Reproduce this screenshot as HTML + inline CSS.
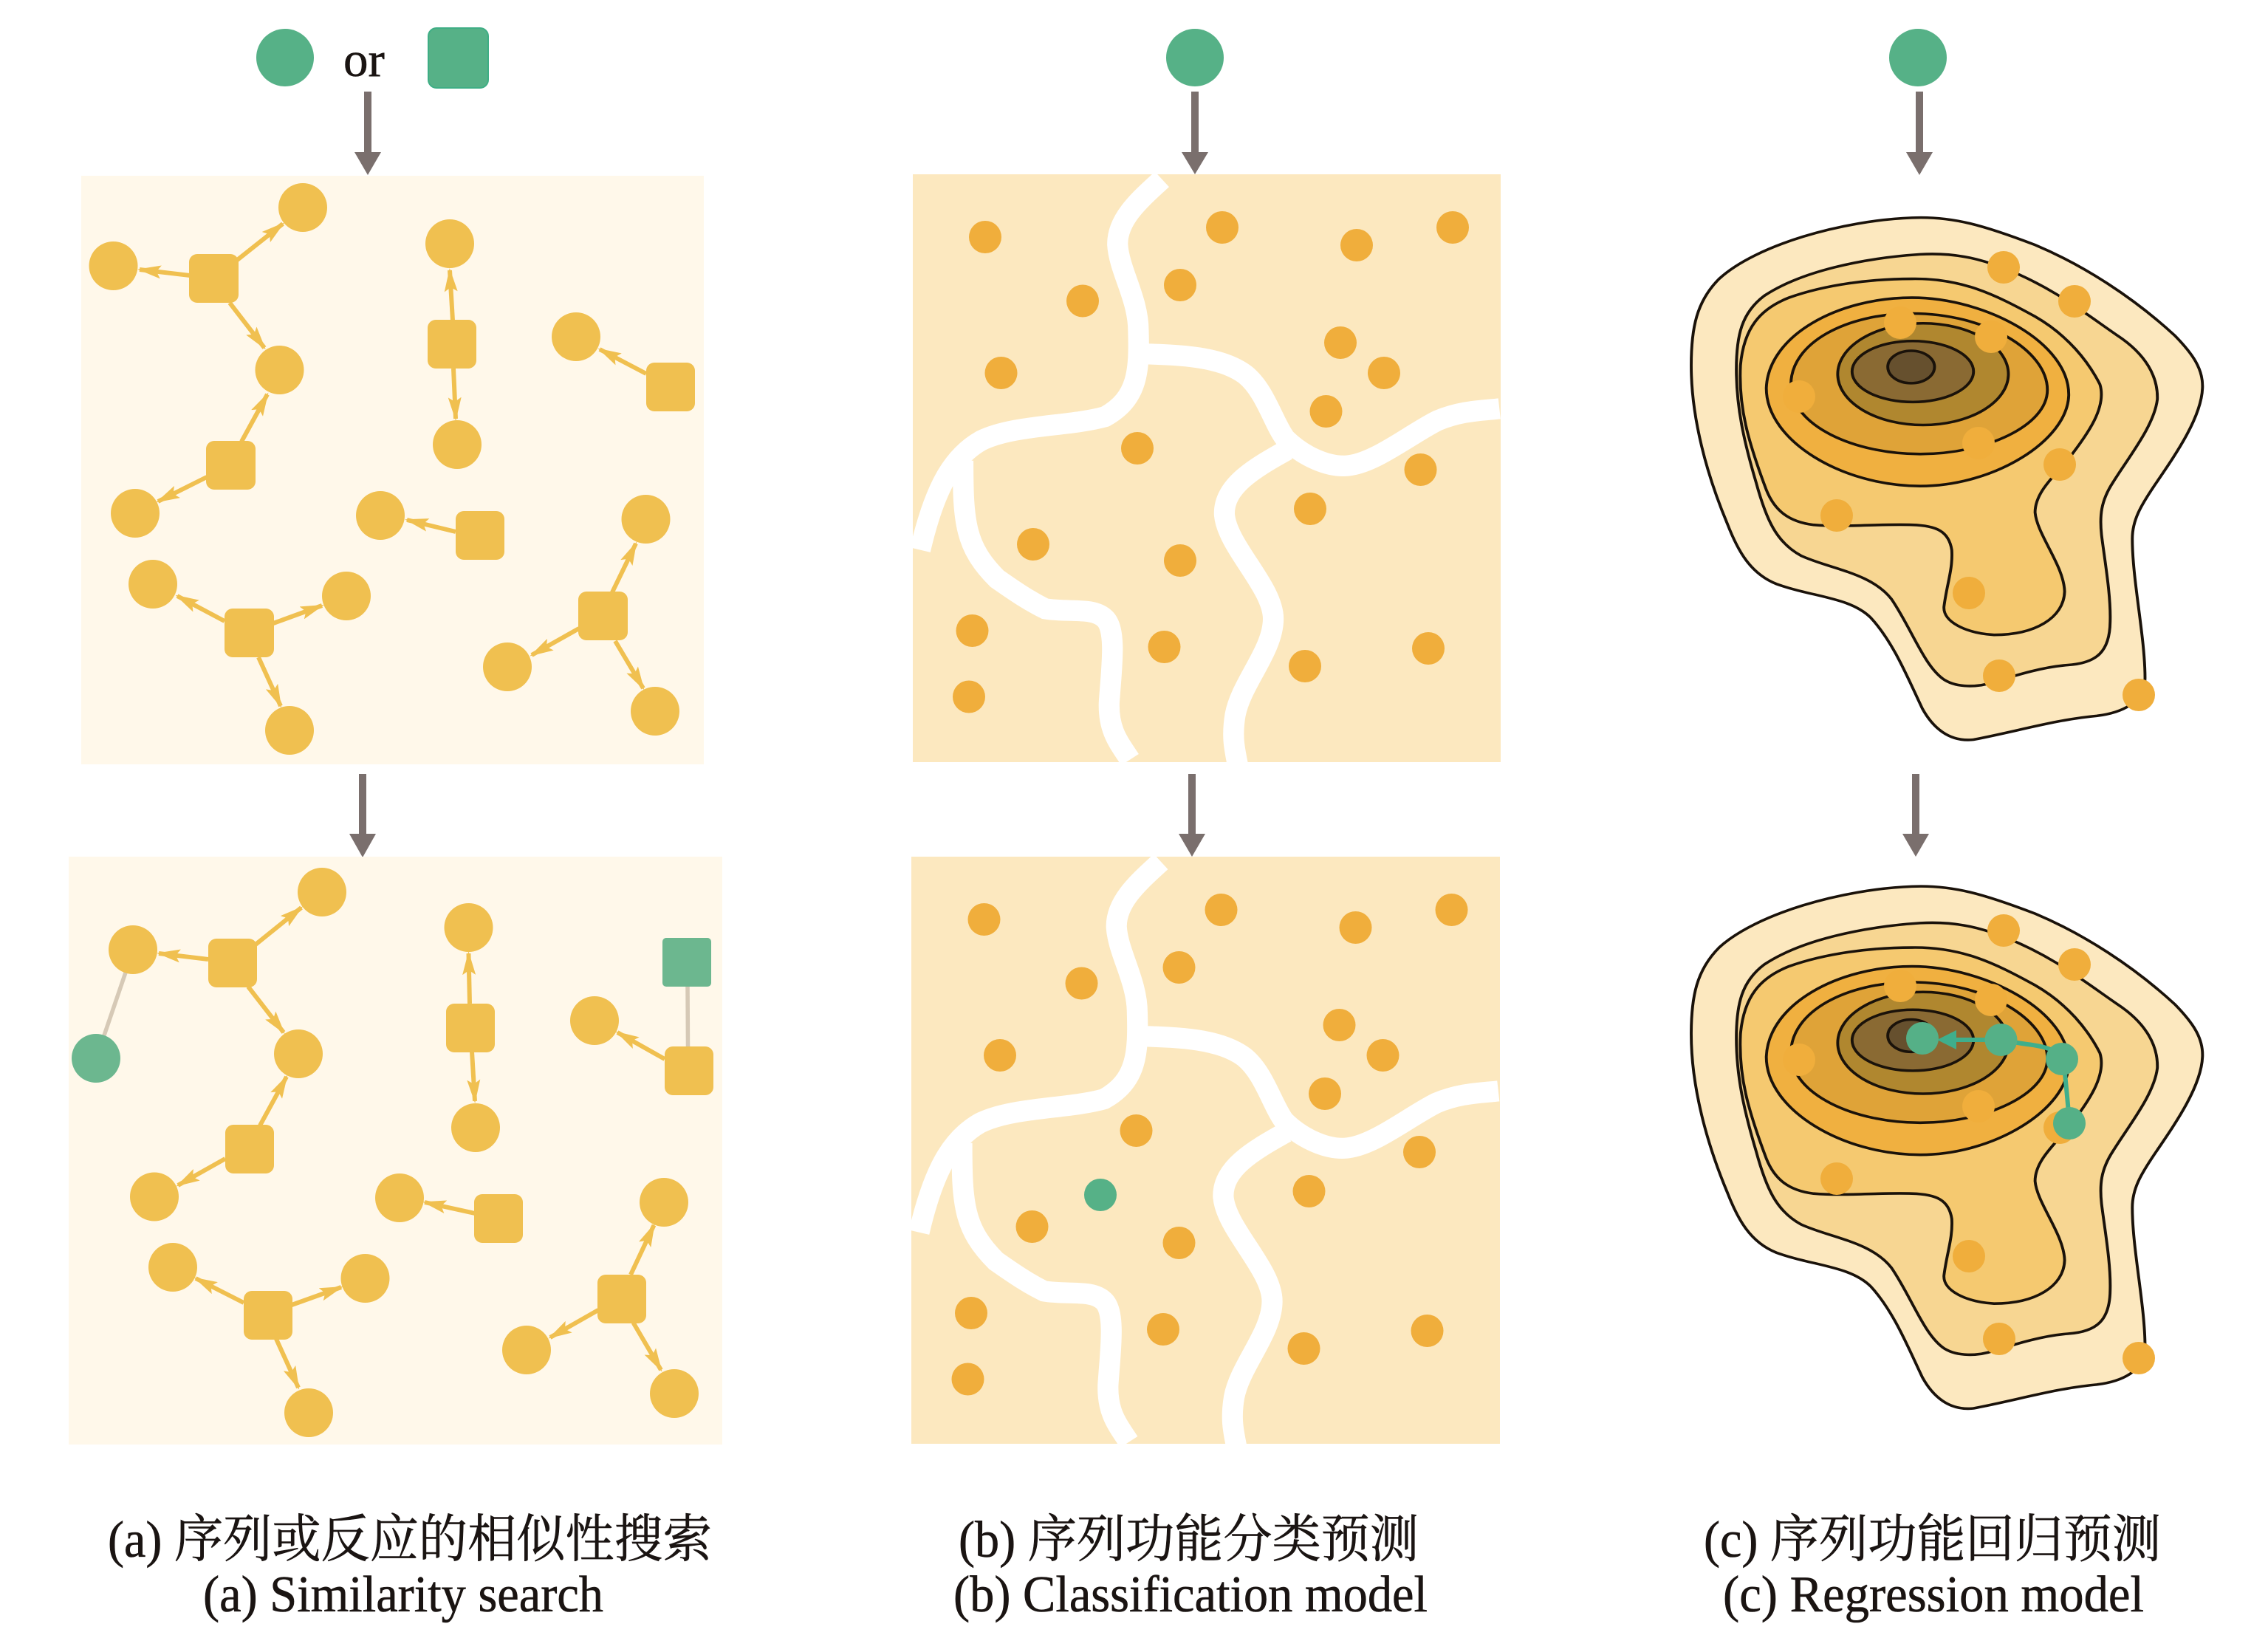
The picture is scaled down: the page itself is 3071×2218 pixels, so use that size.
<!DOCTYPE html>
<html><head><meta charset="utf-8"><style>
html,body{margin:0;padding:0;background:#fff}
svg{display:block}
.t{font-family:"Liberation Serif","Noto Serif CJK SC",serif;font-size:70px;fill:#1a1412;stroke:#1a1412;stroke-width:.6;text-anchor:start}
.y circle,.y rect{fill:#f0c050}
.a line{stroke:#f0c050;stroke-width:6;marker-end:url(#ah)}
.o circle{fill:#f0ae3c}
.w path{fill:none;stroke:#fff;stroke-width:52}
.c path,.c ellipse{stroke:#1a120a;stroke-width:7}
</style></head><body>
<svg xmlns="http://www.w3.org/2000/svg" width="3071" height="2218" viewBox="0 0 3071 2218">
<defs>
<marker id="ah" markerUnits="userSpaceOnUse" viewBox="0 0 32 18" refX="29" refY="9" markerWidth="32" markerHeight="18" orient="auto"><polygon points="0,0 32,9 0,18 6,9" fill="#f0c050"/></marker>
<clipPath id="cb1"><rect x="1236" y="236" width="796" height="796"/></clipPath>
<clipPath id="cb2"><rect x="1234" y="1160" width="797" height="795"/></clipPath>
</defs>
<rect width="3071" height="2218" fill="#fff"/>

<!-- top inputs -->
<circle cx="386" cy="78" r="39" fill="#56b187"/>
<text x="465" y="103" font-family="Liberation Serif" font-size="67" fill="#1a1412" stroke="#1a1412" stroke-width=".6">or</text>
<rect x="580" y="38" width="81" height="81" rx="11" fill="#56b187" stroke="#3fae85" stroke-width="2"/>
<circle cx="1618" cy="78" r="39" fill="#56b187"/>
<circle cx="2597" cy="78" r="39" fill="#56b187"/>

<!-- grey arrows -->
<g fill="#7a6f6d">
<path d="M493,124h10v82h13l-18,31l-18,-31h13z"/>
<path d="M486,1048h10v81h13l-18,32l-18,-32h13z"/>
<path d="M1613,124h10v82h13l-18,30l-18,-30h13z"/>
<path d="M1609,1048h10v81h13l-18,31l-18,-31h13z"/>
<path d="M2594,124h10v82h13l-18,31l-18,-31h13z"/>
<path d="M2589,1048h10v81h13l-18,31l-18,-31h13z"/>
</g>

<!-- panel a1 -->
<rect x="110" y="238" width="843" height="797" fill="#fff8ea"/>
<g class="a">
<line x1="320" y1="353" x2="383" y2="303"/><line x1="257" y1="373" x2="189" y2="365"/><line x1="311" y1="410" x2="358" y2="471"/>
<line x1="327" y1="598" x2="362" y2="534"/><line x1="280" y1="646" x2="214" y2="679"/>
<line x1="613" y1="434" x2="609" y2="366"/><line x1="614" y1="499" x2="617" y2="567"/>
<line x1="875" y1="506" x2="812" y2="473"/><line x1="617" y1="720" x2="551" y2="704"/>
<line x1="304" y1="841" x2="240" y2="807"/><line x1="370" y1="844" x2="436" y2="820"/><line x1="350" y1="890" x2="380" y2="956"/>
<line x1="829" y1="802" x2="861" y2="736"/><line x1="784" y1="851" x2="720" y2="887"/><line x1="833" y1="868" x2="871" y2="932"/>
</g>
<g class="y">
<circle cx="410" cy="281" r="33"/><circle cx="153.500" cy="360" r="33"/><circle cx="378.500" cy="501" r="33"/><circle cx="183" cy="695" r="33"/>
<circle cx="609" cy="330" r="33"/><circle cx="619" cy="602" r="33"/><circle cx="780" cy="456" r="33"/><circle cx="515" cy="698" r="33"/>
<circle cx="207" cy="791" r="33"/><circle cx="469" cy="807" r="33"/><circle cx="392" cy="989" r="33"/>
<circle cx="874.500" cy="703" r="33"/><circle cx="687" cy="903" r="33"/><circle cx="887" cy="963" r="33"/>
<rect x="256" y="344" width="67" height="66" rx="11"/><rect x="279" y="597" width="67" height="66" rx="11"/>
<rect x="579" y="433" width="66" height="66" rx="11"/><rect x="875" y="491" width="66" height="66" rx="11"/>
<rect x="617" y="692" width="66" height="66" rx="11"/><rect x="304" y="824" width="67" height="66" rx="11"/>
<rect x="783" y="801" width="67" height="66" rx="11"/>
</g>

<!-- panel a2 -->
<rect x="93" y="1160" width="885" height="796" fill="#fff8ea"/>
<line x1="170" y1="1317" x2="141" y2="1402" stroke="#d6c9b6" stroke-width="5.500"/>
<line x1="931" y1="1336" x2="931.500" y2="1417" stroke="#d6c9b6" stroke-width="5.500"/>
<g class="a">
<line x1="346" y1="1279" x2="408" y2="1229"/><line x1="282" y1="1299" x2="215" y2="1291"/><line x1="336" y1="1336" x2="384" y2="1398"/>
<line x1="352" y1="1524" x2="388" y2="1458"/><line x1="305" y1="1569" x2="241" y2="1605"/>
<line x1="636" y1="1359" x2="634.500" y2="1291"/><line x1="639" y1="1424" x2="643" y2="1491"/>
<line x1="900" y1="1434" x2="836" y2="1398"/><line x1="643" y1="1643" x2="575" y2="1628"/>
<line x1="330" y1="1764" x2="265" y2="1731"/><line x1="395" y1="1767" x2="462" y2="1743"/><line x1="374" y1="1813" x2="404" y2="1879"/>
<line x1="854" y1="1726" x2="885.500" y2="1659"/><line x1="810" y1="1774" x2="745" y2="1811"/><line x1="857.500" y1="1791" x2="895" y2="1855"/>
</g>
<g class="y">
<circle cx="436" cy="1208" r="33"/><circle cx="180" cy="1286" r="33"/><circle cx="404" cy="1427" r="33"/><circle cx="209" cy="1620.500" r="33"/>
<circle cx="634.500" cy="1256" r="33"/><circle cx="644" cy="1527" r="33"/><circle cx="805" cy="1382" r="33"/><circle cx="541" cy="1622" r="33"/>
<circle cx="234" cy="1716" r="33"/><circle cx="494.500" cy="1731" r="33"/><circle cx="418" cy="1913" r="33"/>
<circle cx="899" cy="1628" r="33"/><circle cx="713" cy="1828" r="33"/><circle cx="913" cy="1887" r="33"/>
<rect x="282" y="1271" width="66" height="66" rx="11"/><rect x="305" y="1523" width="66" height="66" rx="11"/>
<rect x="604" y="1359" width="66" height="66" rx="11"/><rect x="900" y="1417" width="66" height="66" rx="11"/>
<rect x="642" y="1617" width="66" height="66" rx="11"/><rect x="330" y="1748" width="66" height="66" rx="11"/>
<rect x="809" y="1726" width="66" height="66" rx="11"/>
</g>
<circle cx="130" cy="1433" r="33" fill="#6cb78f"/>
<rect x="897" y="1270" width="66" height="66" rx="5" fill="#6cb78f"/>

<!-- panel b1 -->
<rect x="1236" y="236" width="796" height="796" fill="#fce8bf"/>
<g clip-path="url(#cb1)"><g class="w" transform="translate(1220,220) scale(.542)">
<path d="M652,42C600,90 540,140 541,205C545,270 593,340 593,420C596,520 592,590 510,635C420,660 280,655 200,695C130,735 85,810 48,968"/>
<path d="M590,478C700,480 800,485 860,530C910,570 930,650 960,690C1000,730 1060,760 1110,758C1180,755 1270,680 1340,645C1400,620 1450,620 1495,615"/>
<path d="M965,718C880,765 805,810 808,880C815,960 930,1060 930,1140C930,1220 850,1300 835,1380C825,1440 835,1470 842,1510"/>
<path d="M155,745C155,900 160,960 240,1040C290,1075 320,1095 360,1115C420,1125 480,1110 510,1140C540,1170 525,1270 520,1350C518,1420 545,1450 572,1492"/>
</g></g>
<g class="o">
<circle cx="1334" cy="321" r="22"/><circle cx="1466" cy="407.500" r="22"/><circle cx="1355.500" cy="505" r="22"/><circle cx="1655" cy="308" r="22"/>
<circle cx="1598" cy="386" r="22"/><circle cx="1837" cy="332" r="22"/><circle cx="1967" cy="308" r="22"/><circle cx="1815" cy="464" r="22"/>
<circle cx="1874" cy="505" r="22"/><circle cx="1795.500" cy="557" r="22"/><circle cx="1540" cy="607" r="22"/><circle cx="1923.500" cy="636" r="22"/>
<circle cx="1774" cy="689" r="22"/><circle cx="1399" cy="737" r="22"/><circle cx="1598" cy="759" r="22"/><circle cx="1316.500" cy="854" r="22"/>
<circle cx="1312" cy="943.500" r="22"/><circle cx="1576.500" cy="876" r="22"/><circle cx="1767" cy="902" r="22"/><circle cx="1934" cy="878" r="22"/>
</g>

<!-- panel b2 -->
<rect x="1234" y="1160" width="797" height="795" fill="#fce8bf"/>
<g clip-path="url(#cb2)"><g class="w" transform="translate(1218.500,1144) scale(.542)">
<path d="M652,42C600,90 540,140 541,205C545,270 593,340 593,420C596,520 592,590 510,635C420,660 280,655 200,695C130,735 85,810 48,968"/>
<path d="M590,478C700,480 800,485 860,530C910,570 930,650 960,690C1000,730 1060,760 1110,758C1180,755 1270,680 1340,645C1400,620 1450,620 1495,615"/>
<path d="M965,718C880,765 805,810 808,880C815,960 930,1060 930,1140C930,1220 850,1300 835,1380C825,1440 835,1470 842,1510"/>
<path d="M155,745C155,900 160,960 240,1040C290,1075 320,1095 360,1115C420,1125 480,1110 510,1140C540,1170 525,1270 520,1350C518,1420 545,1450 572,1492"/>
</g></g>
<g class="o" transform="translate(-1.500,924)">
<circle cx="1334" cy="321" r="22"/><circle cx="1466" cy="407.500" r="22"/><circle cx="1355.500" cy="505" r="22"/><circle cx="1655" cy="308" r="22"/>
<circle cx="1598" cy="386" r="22"/><circle cx="1837" cy="332" r="22"/><circle cx="1967" cy="308" r="22"/><circle cx="1815" cy="464" r="22"/>
<circle cx="1874" cy="505" r="22"/><circle cx="1795.500" cy="557" r="22"/><circle cx="1540" cy="607" r="22"/><circle cx="1923.500" cy="636" r="22"/>
<circle cx="1774" cy="689" r="22"/><circle cx="1399" cy="737" r="22"/><circle cx="1598" cy="759" r="22"/><circle cx="1316.500" cy="854" r="22"/>
<circle cx="1312" cy="943.500" r="22"/><circle cx="1576.500" cy="876" r="22"/><circle cx="1767" cy="902" r="22"/><circle cx="1934" cy="878" r="22"/>
</g>
<circle cx="1490" cy="1618" r="22" fill="#56b187"/>

<!-- panel c1 -->
<g class="c" transform="translate(2200,250) scale(.5556,.5102)">
<path fill="#fce8bf" d="M700,88C800,83 880,110 1000,160C1120,215 1240,300 1340,400C1385,450 1410,490 1408,540C1405,620 1340,720 1290,800C1258,852 1237,890 1237,940C1237,1050 1268,1200 1268,1310C1268,1375 1210,1402 1150,1410C1050,1420 960,1450 850,1473C790,1480 750,1440 725,1390C690,1310 655,1215 600,1150C550,1095 460,1095 370,1060C305,1032 275,970 250,900C200,770 162,620 162,480C162,380 175,310 230,250C320,160 530,95 700,88Z"/>
<path fill="#f7d692" d="M720,185C800,180 860,195 920,220C1040,270 1120,340 1200,400C1270,450 1300,510 1298,570C1290,640 1230,720 1190,790C1160,840 1157,880 1162,930C1170,1000 1185,1090 1183,1160C1182,1240 1150,1270 1080,1275C1020,1280 960,1300 900,1320C860,1335 810,1335 780,1315C730,1280 700,1180 650,1100C600,1030 500,1020 430,985C370,950 345,890 320,790C290,680 272,590 272,490C272,400 285,340 340,295C430,230 580,195 720,185Z"/>
<path fill="#f5c970" d="M700,250C820,248 900,290 1000,350C1080,400 1130,470 1158,530C1175,590 1130,660 1080,730C1040,780 1000,820 1000,870C1005,930 1070,1010 1072,1080C1070,1150 1000,1195 900,1195C830,1190 775,1160 778,1120C785,1060 800,1020 797,970C790,920 760,905 700,903C620,900 540,910 460,903C400,895 365,865 345,810C300,680 277,590 282,480C290,380 330,330 400,300C490,265 600,250 700,250Z"/>
<path fill="#f0b040" d="M700,300C880,300 1085,420 1082,560C1078,680 900,800 720,800C530,800 345,680 345,540C350,400 520,300 700,300Z"/>
<path fill="#dfa338" d="M700,342C880,342 1030,440 1030,545C1030,640 880,715 720,715C560,715 405,640 405,530C405,420 540,342 700,342Z"/>
<ellipse fill="#b0872f" cx="727" cy="503" rx="208" ry="135"/>
<ellipse fill="#8a6a33" cx="702" cy="496" rx="148" ry="81"/>
<ellipse fill="#66502e" cx="698" cy="484" rx="57" ry="43"/>
</g>
<g class="o">
<circle cx="2713" cy="362" r="22"/><circle cx="2809" cy="408" r="22"/><circle cx="2573" cy="437" r="22"/><circle cx="2696" cy="456" r="22"/>
<circle cx="2436" cy="537" r="22"/><circle cx="2679" cy="600" r="22"/><circle cx="2789" cy="629" r="22"/><circle cx="2487" cy="698" r="22"/>
<circle cx="2666" cy="803" r="22"/><circle cx="2707" cy="915" r="22"/><circle cx="2896" cy="941" r="22"/>
</g>

<!-- panel c2 -->
<g class="c" transform="translate(2200,1155.500) scale(.5556,.5102)">
<path fill="#fce8bf" d="M700,88C800,83 880,110 1000,160C1120,215 1240,300 1340,400C1385,450 1410,490 1408,540C1405,620 1340,720 1290,800C1258,852 1237,890 1237,940C1237,1050 1268,1200 1268,1310C1268,1375 1210,1402 1150,1410C1050,1420 960,1450 850,1473C790,1480 750,1440 725,1390C690,1310 655,1215 600,1150C550,1095 460,1095 370,1060C305,1032 275,970 250,900C200,770 162,620 162,480C162,380 175,310 230,250C320,160 530,95 700,88Z"/>
<path fill="#f7d692" d="M720,185C800,180 860,195 920,220C1040,270 1120,340 1200,400C1270,450 1300,510 1298,570C1290,640 1230,720 1190,790C1160,840 1157,880 1162,930C1170,1000 1185,1090 1183,1160C1182,1240 1150,1270 1080,1275C1020,1280 960,1300 900,1320C860,1335 810,1335 780,1315C730,1280 700,1180 650,1100C600,1030 500,1020 430,985C370,950 345,890 320,790C290,680 272,590 272,490C272,400 285,340 340,295C430,230 580,195 720,185Z"/>
<path fill="#f5c970" d="M700,250C820,248 900,290 1000,350C1080,400 1130,470 1158,530C1175,590 1130,660 1080,730C1040,780 1000,820 1000,870C1005,930 1070,1010 1072,1080C1070,1150 1000,1195 900,1195C830,1190 775,1160 778,1120C785,1060 800,1020 797,970C790,920 760,905 700,903C620,900 540,910 460,903C400,895 365,865 345,810C300,680 277,590 282,480C290,380 330,330 400,300C490,265 600,250 700,250Z"/>
<path fill="#f0b040" d="M700,300C880,300 1085,420 1082,560C1078,680 900,800 720,800C530,800 345,680 345,540C350,400 520,300 700,300Z"/>
<path fill="#dfa338" d="M700,342C880,342 1030,440 1030,545C1030,640 880,715 720,715C560,715 405,640 405,530C405,420 540,342 700,342Z"/>
<ellipse fill="#b0872f" cx="727" cy="503" rx="208" ry="135"/>
<ellipse fill="#8a6a33" cx="702" cy="496" rx="148" ry="81"/>
<ellipse fill="#66502e" cx="698" cy="484" rx="57" ry="43"/>
</g>
<g class="o" transform="translate(0,898)">
<circle cx="2713" cy="362" r="22"/><circle cx="2809" cy="408" r="22"/><circle cx="2573" cy="437" r="22"/><circle cx="2696" cy="456" r="22"/>
<circle cx="2436" cy="537" r="22"/><circle cx="2679" cy="600" r="22"/><circle cx="2789" cy="629" r="22"/><circle cx="2487" cy="698" r="22"/>
<circle cx="2666" cy="803" r="22"/><circle cx="2707" cy="915" r="22"/><circle cx="2896" cy="941" r="22"/>
</g>
<path d="M2802,1521C2800,1490 2797,1465 2794,1434C2785,1422 2770,1417 2745,1414C2730,1412 2720,1410 2709,1408L2640,1408" fill="none" stroke="#3fae8c" stroke-width="6"/>
<polygon points="2623,1408 2649,1395 2649,1421" fill="#3fae8c"/>
<g fill="#55b087">
<circle cx="2603" cy="1406" r="22"/><circle cx="2709.500" cy="1408" r="22"/><circle cx="2792" cy="1434" r="22"/><circle cx="2802" cy="1521" r="22"/>
</g>

<!-- captions -->
<text class="t" x="146" y="2108" textLength="818" lengthAdjust="spacingAndGlyphs">(a) 序列或反应的相似性搜索</text>
<text class="t" x="275" y="2182" textLength="542" lengthAdjust="spacingAndGlyphs">(a) Similarity search</text>
<text class="t" x="1298" y="2108" textLength="623" lengthAdjust="spacingAndGlyphs">(b) 序列功能分类预测</text>
<text class="t" x="1291" y="2182" textLength="642" lengthAdjust="spacingAndGlyphs">(b) Classification model</text>
<text class="t" x="2307" y="2108" textLength="619" lengthAdjust="spacingAndGlyphs">(c) 序列功能回归预测</text>
<text class="t" x="2333" y="2182" textLength="570" lengthAdjust="spacingAndGlyphs">(c) Regression model</text>
</svg>
</body></html>
